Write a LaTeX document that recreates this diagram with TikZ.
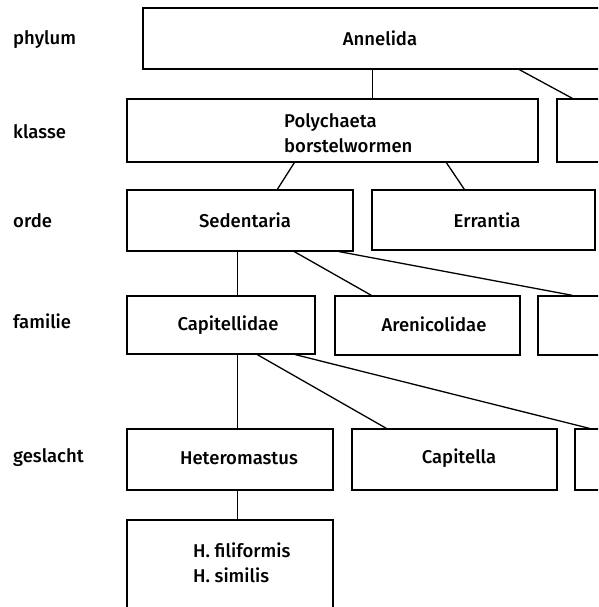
\documentclass[tikz,border=0pt]{standalone}
\usepackage{fontspec}
\setmainfont{Fira Sans}[UprightFont={* Medium}]
\begin{document}
\begin{tikzpicture}[x=1pt,y=-1pt,
  box/.style={draw=black, line width=1.3pt, inner sep=0pt, rectangle},
  txt/.style={anchor=base, inner sep=0pt, font=\fontsize{18.5}{23}\selectfont},
  rank/.style={anchor=base west, inner sep=0pt, font=\fontsize{18.5}{23}\selectfont},
  conn/.style={draw=black, line width=1.3pt}]
\useasboundingbox (0,0) rectangle (598,607);
\clip (0,0) rectangle (598,607);
\fill[white] (0,0) rectangle (598,607);

% rank labels
\node[rank] (lphylum)   at (13,45)  {phylum};
\node[rank] (lklasse)   at (13,138) {klasse};
\node[rank] (lorde)     at (13,227) {orde};
\node[rank] (lfamilie)  at (13,328) {familie};
\node[rank] (lgeslacht) at (13,462) {geslacht};

% boxes
\node[box, minimum width=474pt, minimum height=61pt] (annelida) at (380,38.5) {};
\node[box, minimum width=411pt, minimum height=63pt] (polychaeta) at (332.5,130.5) {};
\node[box, minimum width=143pt, minimum height=63pt] (klasse2) at (628.5,130.5) {};
\node[box, minimum width=226pt, minimum height=61pt] (sedentaria) at (240,220.5) {};
\node[box, minimum width=223pt, minimum height=60pt] (errantia) at (483.5,220) {};
\node[box, minimum width=188pt, minimum height=58pt] (capitellidae) at (221,325) {};
\node[box, minimum width=185pt, minimum height=59pt] (arenicolidae) at (427.5,325.5) {};
\node[box, minimum width=182pt, minimum height=59pt] (familie3) at (629,325.5) {};
\node[box, minimum width=206pt, minimum height=61pt] (heteromastus) at (230,459.5) {};
\node[box, minimum width=205pt, minimum height=61pt] (capitella) at (454.5,459.5) {};
\node[box, minimum width=205pt, minimum height=61pt] (geslacht3) at (677.5,459.5) {};
\node[box, minimum width=206pt, minimum height=110pt] (species) at (230,575) {};

% texts
\node[txt] (tannelida) at (380,46) {Annelida};
\node[txt, anchor=base west] (tpoly1) at (284,128) {Polychaeta};
\node[txt, anchor=base west] (tpoly2) at (284,152) {borstelwormen};
\node[txt] (tsedentaria) at (245,227) {Sedentaria};
\node[txt] (terrantia) at (487,227) {Errantia};
\node[txt] (tcapitellidae) at (228,330) {Capitellidae};
\node[txt] (tarenicolidae) at (434,331) {Arenicolidae};
\node[txt] (theteromastus) at (239,464) {Heteromastus};
\node[txt] (tcapitella) at (459,463) {Capitella};
\node[txt, anchor=base west] (tsp1) at (193,557) {H. filiformis};
\node[txt, anchor=base west] (tsp2) at (193,582) {H. similis};

% connectors
\draw[conn] ([xshift=230pt]annelida.south west) -- ([xshift=246pt]polychaeta.north west);
\draw[conn] ([xshift=377pt]annelida.south west) -- ([xshift=16pt]klasse2.north west);
\draw[conn] ([xshift=168pt]polychaeta.south west) -- ([xshift=151pt]sedentaria.north west);
\draw[conn] ([xshift=320pt]polychaeta.south west) -- ([xshift=93pt]errantia.north west);
\draw[conn] ([xshift=111pt]sedentaria.south west) -- ([xshift=111pt]capitellidae.north west);
\draw[conn] ([xshift=168pt]sedentaria.south west) -- ([xshift=37pt]arenicolidae.north west);
\draw[conn] ([xshift=213pt]sedentaria.south west) -- ([xshift=35pt]familie3.north west);
\draw[conn] ([xshift=111pt]capitellidae.south west) -- ([xshift=111pt]heteromastus.north west);
\draw[conn] ([xshift=131pt]capitellidae.south west) -- ([xshift=35pt]capitella.north west);
\draw[conn] ([xshift=169pt]capitellidae.south west) -- ([xshift=15pt]geslacht3.north west);
\draw[conn] ([xshift=111pt]heteromastus.south west) -- ([xshift=111pt]species.north west);
\end{tikzpicture}
\end{document}
